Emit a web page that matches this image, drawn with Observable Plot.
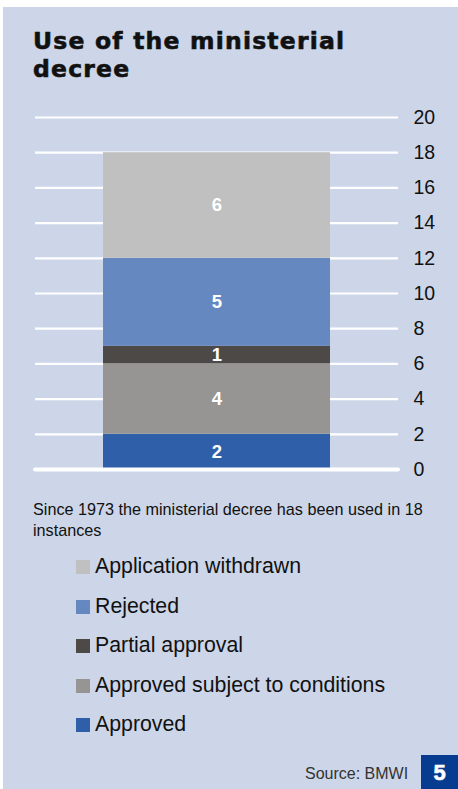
<!DOCTYPE html>
<html>
<head>
<meta charset="utf-8">
<script src="https://cdn.jsdelivr.net/npm/d3@7"></script>
<script src="https://cdn.jsdelivr.net/npm/@observablehq/plot@0.6"></script>
<style>
  html, body { margin: 0; padding: 0; background: #ffffff; }
  body { width: 458px; height: 789px; position: relative; overflow: hidden; font-family: "Liberation Sans", Arial, sans-serif; }
  #panel { position: absolute; left: 3px; top: 7px; width: 455px; height: 782px; background: #ccd6e8; }
  #title { position: absolute; left: 33px; top: 27px; font-family: "DejaVu Sans", sans-serif; font-size: 23.5px; line-height: 28px; font-weight: bold; color: #111; -webkit-text-stroke: 0.6px #111; letter-spacing: 1.2px; white-space: nowrap; }
  #chart { position: absolute; left: 0; top: 90px; }
  #caption { position: absolute; left: 33px; top: 499px; font-size: 16.2px; line-height: 21px; color: #111; width: 415px; }
  #legend { position: absolute; left: 76px; top: 553px; }
  .item { height: 39.5px; display: flex; align-items: flex-start; }
  .sw { width: 14px; height: 14px; margin-top: 7px; margin-right: 5px; }
  .lab { font-size: 21.3px; line-height: 26px; color: #111; }
  #source { position: absolute; left: 305px; top: 765px; font-size: 16px; color: #333; }
  #pagebox { position: absolute; left: 421px; top: 755px; width: 37px; height: 34px; background: #063b8f; color: #fff; font-weight: bold; font-size: 22px; text-align: center; line-height: 36px; -webkit-text-stroke: 0.6px #fff; }
</style>
</head>
<body>
<div id="panel"></div>
<div id="title">Use of the ministerial<br>decree</div>
<div id="chart"></div>
<div id="caption">Since 1973 the ministerial decree has been used in 18 instances</div>
<div id="legend"></div>
<div id="source">Source: BMWI</div>
<div id="pagebox">5</div>
<script>
// Data (bottom to top of stack)
const categories = ["Approved", "Approved subject to conditions", "Partial approval", "Rejected", "Application withdrawn"];
const values = [2, 4, 1, 5, 6];
const colors = ["#305faa", "#969594", "#4d4947", "#6688c0", "#c0c0c0"];
const yTicks = [0, 2, 4, 6, 8, 10, 12, 14, 16, 18, 20];
const legendOrder = ["Application withdrawn", "Rejected", "Partial approval", "Approved subject to conditions", "Approved"];

const rows = categories.map((c, i) => ({bar: "all", category: c, value: values[i]}));

const plot = Plot.plot({
  width: 458,
  height: 400,
  marginLeft: 35,
  marginRight: 60,
  marginTop: 27,
  marginBottom: 21,
  style: {background: "transparent", fontFamily: "Liberation Sans, Arial, sans-serif"},
  x: {domain: ["all"], padding: 0.2305, axis: null},
  y: {domain: [0, 20], ticks: yTicks, label: null},
  color: {domain: categories, range: colors},
  marks: [
    Plot.ruleY(yTicks.filter(d => d !== 0), {stroke: "#ffffff", strokeWidth: 2.2}),
    Plot.barY(rows, Plot.stackY({x: "bar", y: "value", fill: "category"})),
    Plot.ruleY([0], {stroke: "#ffffff", strokeWidth: 4, strokeLinecap: "round"}),
    Plot.text(rows, Plot.stackY({x: "bar", y: "value", text: "value", fill: "#ffffff", fontSize: 18.5, fontWeight: "bold"})),
    Plot.axisY({anchor: "right", ticks: yTicks, tickSize: 0, tickPadding: 15, textAnchor: "start", fontSize: 19.5, fill: "#111", label: null})
  ]
});
document.getElementById("chart").appendChild(plot);

const legend = document.getElementById("legend");
legendOrder.forEach(name => {
  const item = document.createElement("div");
  item.className = "item";
  const sw = document.createElement("div");
  sw.className = "sw";
  sw.style.background = colors[categories.indexOf(name)];
  const lab = document.createElement("div");
  lab.className = "lab";
  lab.textContent = name;
  item.appendChild(sw);
  item.appendChild(lab);
  legend.appendChild(item);
});
</script>
</body>
</html>
